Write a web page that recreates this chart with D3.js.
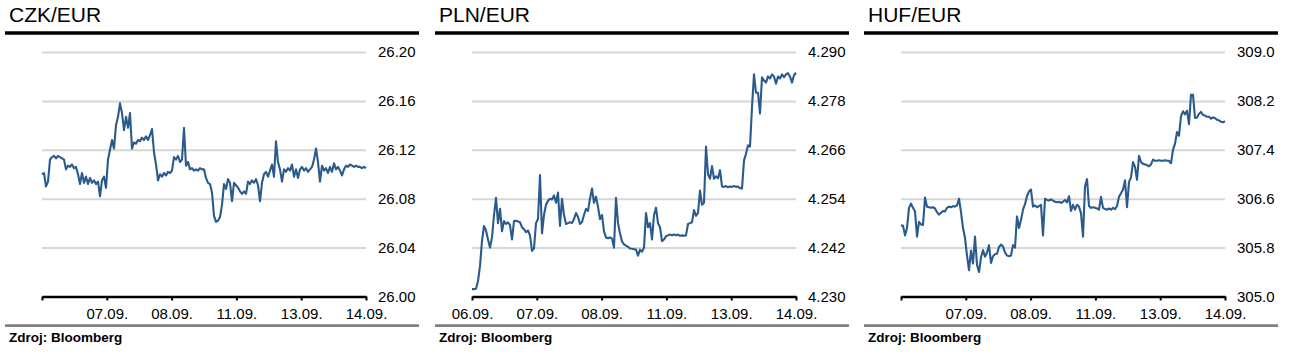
<!DOCTYPE html>
<html>
<head>
<meta charset="utf-8">
<script src="https://cdn.jsdelivr.net/npm/d3@7"></script>
<style>
  html, body { margin: 0; padding: 0; background: #ffffff; }
  svg { display: block; font-family: "Liberation Sans", Arial, sans-serif; }
</style>
</head>
<body>
<svg id="chart" width="1292" height="364"></svg>
<script>
// ---- data ----
const titles = ["CZK/EUR", "PLN/EUR", "HUF/EUR"];
const sourceText = "Zdroj: Bloomberg";
const dayLabelsFirst = ["", "07.09.", "08.09.", "11.09.", "13.09.", "14.09."];
const dayLabelsPln = ["06.09.", "07.09.", "08.09.", "11.09.", "13.09.", "14.09."];
const czkTicks = [26.00, 26.04, 26.08, 26.12, 26.16, 26.20];
const plnTicks = [4.230, 4.242, 4.254, 4.266, 4.278, 4.290];
const hufTicks = [305.0, 305.8, 306.6, 307.4, 308.2, 309.0];

const czkValues = [
26.100,26.101,26.090,26.094,26.112,26.114,26.115,26.113,26.115,26.114,26.113,26.112,
26.104,26.107,26.106,26.108,26.105,26.106,26.100,26.092,26.101,26.093,26.098,26.092,
26.097,26.093,26.095,26.092,26.094,26.082,26.095,26.098,26.089,26.112,26.120,26.128,
26.121,26.140,26.147,26.158,26.150,26.136,26.147,26.138,26.150,26.121,26.126,26.125,
26.128,26.127,26.130,26.128,26.131,26.128,26.132,26.137,26.118,26.108,26.095,26.100,
26.098,26.101,26.099,26.102,26.101,26.103,26.114,26.112,26.115,26.110,26.112,26.138,
26.107,26.110,26.104,26.105,26.103,26.104,26.103,26.105,26.104,26.104,26.097,26.093,
26.092,26.085,26.066,26.061,26.062,26.065,26.075,26.092,26.088,26.096,26.093,26.078,
26.093,26.091,26.089,26.086,26.084,26.086,26.084,26.094,26.092,26.095,26.093,26.096,
26.091,26.078,26.093,26.100,26.102,26.098,26.103,26.108,26.098,26.127,26.110,26.104,
26.094,26.104,26.102,26.105,26.103,26.108,26.098,26.104,26.097,26.104,26.106,26.103,
26.105,26.102,26.104,26.106,26.112,26.121,26.110,26.094,26.107,26.103,26.105,26.101,
26.106,26.102,26.109,26.104,26.106,26.103,26.099,26.104,26.107,26.106,26.108,26.107,
26.106,26.107,26.106,26.106,26.105,26.106,26.105
];

const plnValues = [
4.2318,4.2318,4.2319,4.2338,4.2375,4.2436,4.2473,4.2462,4.2440,4.2420,4.2445,4.2500,
4.2542,4.2480,4.2515,4.2460,4.2485,4.2478,4.2482,4.2475,4.2440,4.2485,4.2486,4.2484,
4.2482,4.2470,4.2465,4.2458,4.2462,4.2450,4.2412,4.2418,4.2480,4.2490,4.2598,4.2455,
4.2500,4.2525,4.2535,4.2540,4.2538,4.2548,4.2530,4.2555,4.2473,4.2540,4.2500,4.2478,
4.2480,4.2482,4.2480,4.2490,4.2505,4.2495,4.2478,4.2483,4.2500,4.2515,4.2510,4.2540,
4.2565,4.2530,4.2545,4.2520,4.2490,4.2500,4.2460,4.2445,4.2443,4.2445,4.2442,4.2420,
4.2542,4.2480,4.2455,4.2435,4.2428,4.2425,4.2422,4.2418,4.2417,4.2416,4.2415,4.2400,
4.2415,4.2410,4.2420,4.2505,4.2470,4.2480,4.2440,4.2500,4.2518,4.2480,4.2470,4.2436,
4.2440,4.2448,4.2450,4.2452,4.2450,4.2452,4.2450,4.2452,4.2449,4.2450,4.2449,4.2450,
4.2478,4.2480,4.2482,4.2512,4.2498,4.2505,4.2560,4.2525,4.2530,4.2668,4.2600,4.2589,
4.2620,4.2589,4.2595,4.2590,4.2610,4.2570,4.2569,4.2571,4.2568,4.2570,4.2569,4.2571,
4.2569,4.2570,4.2566,4.2565,4.2634,4.2650,4.2671,4.2668,4.2765,4.2845,4.2800,4.2800,
4.2749,4.2838,4.2830,4.2825,4.2840,4.2835,4.2845,4.2840,4.2822,4.2840,4.2835,4.2845,
4.2838,4.2845,4.2848,4.2840,4.2825,4.2843,4.2849
];

const hufValues = [
306.16,306.16,306.00,306.12,306.45,306.52,306.45,306.39,305.98,306.22,306.18,306.17,
306.62,306.47,306.46,306.45,306.46,306.44,306.38,306.34,306.37,306.40,306.39,306.45,
306.47,306.46,306.48,306.47,306.49,306.60,306.38,306.12,305.96,305.67,305.43,305.75,
305.54,305.98,305.52,305.40,305.64,305.76,305.65,305.72,305.84,305.55,305.66,305.69,
305.70,305.81,305.85,305.82,305.72,305.67,305.66,305.67,305.84,305.80,306.31,306.12,
306.25,306.42,306.51,306.64,306.72,306.75,306.47,306.49,306.46,306.48,306.50,306.00,
306.60,306.58,306.57,306.59,306.57,306.55,306.54,306.55,306.53,306.55,306.58,306.54,
306.64,306.40,306.50,306.42,306.50,306.47,306.36,305.98,306.80,306.92,306.48,306.45,
306.46,306.45,306.44,306.42,306.63,306.45,306.43,306.42,306.44,306.42,306.45,306.43,
306.48,306.63,306.69,306.75,306.90,306.46,306.87,306.95,307.20,307.12,306.91,307.30,
307.20,307.17,307.16,307.15,307.13,307.16,307.24,307.22,307.22,307.23,307.22,307.22,
307.23,307.22,307.22,307.18,307.40,307.50,307.69,307.63,307.95,308.03,307.98,308.04,
307.82,308.30,308.30,307.92,307.93,307.99,308.02,307.97,307.96,307.94,307.94,307.91,
307.93,307.92,307.89,307.88,307.86,307.85,307.87
];

// ---- drawing ----
const panels = [
  { title: titles[0], values: czkValues, ticks: czkTicks, fmt: ".2f", days: dayLabelsFirst, dx: 0 },
  { title: titles[1], values: plnValues, ticks: plnTicks, fmt: ".3f", days: dayLabelsPln, dx: 430 },
  { title: titles[2], values: hufValues, ticks: hufTicks, fmt: ".1f", days: dayLabelsFirst, dx: 859 }
];

const svg = d3.select("#chart");
const lineColor = "#2b5a8c";
const plotL = 42, plotR = 366, plotTop = 52, plotBot = 296.5;

panels.forEach(p => {
  const g = svg.append("g").attr("transform", `translate(${p.dx},0)`);

  // title
  g.append("text").attr("x", 9).attr("y", 22)
    .attr("font-size", 21).attr("fill", "#000").text(p.title);
  // top black rule
  g.append("line").attr("x1", 5).attr("x2", 419).attr("y1", 33).attr("y2", 33)
    .attr("stroke", "#000").attr("stroke-width", 3.5);

  const x = d3.scaleLinear().domain([0, 5]).range([plotL, plotR]);
  const y = d3.scaleLinear().domain([p.ticks[0], p.ticks[p.ticks.length - 1]]).range([plotBot, plotTop]);

  // y axis with gridlines
  const yAxis = d3.axisRight(y).tickValues(p.ticks).tickFormat(d3.format(p.fmt))
    .tickSize(-(plotR - plotL)).tickPadding(12);
  const ya = g.append("g").attr("transform", `translate(${plotR},0)`).call(yAxis);
  ya.select(".domain").remove();
  ya.selectAll(".tick line").attr("stroke", "#d6d6d6").attr("stroke-width", 2);
  ya.selectAll(".tick text").attr("font-size", 15).attr("fill", "#000")
    .attr("font-family", "Liberation Sans, Arial, sans-serif");

  // line
  const n = p.values.length;
  const line = d3.line()
    .x((d, i) => x(i * 5 / (n - 1)))
    .y(d => y(d));
  g.append("path").datum(p.values)
    .attr("d", line).attr("fill", "none")
    .attr("stroke", lineColor).attr("stroke-width", 2.1)
    .attr("stroke-linejoin", "round");

  // x axis
  const xAxis = d3.axisBottom(x).tickValues([0, 1, 2, 3, 4, 5])
    .tickFormat((d, i) => p.days[i]).tickSize(4).tickSizeOuter(0).tickPadding(8);
  const xa = g.append("g").attr("transform", `translate(0,${plotBot})`).call(xAxis);
  xa.select(".domain").attr("stroke", "#000").attr("stroke-width", 2.5);
  xa.selectAll(".tick line").attr("stroke", "#000").attr("stroke-width", 2);
  xa.selectAll(".tick text").attr("font-size", 15).attr("fill", "#000")
    .attr("font-family", "Liberation Sans, Arial, sans-serif");

  // bottom grey rule
  g.append("line").attr("x1", 5).attr("x2", 419).attr("y1", 325.7).attr("y2", 325.7)
    .attr("stroke", "#808080").attr("stroke-width", 2.8);
  // source
  g.append("text").attr("x", 9).attr("y", 342)
    .attr("font-size", 13.5).attr("font-weight", "bold").attr("fill", "#000").text(sourceText);
});
</script>
</body>
</html>
